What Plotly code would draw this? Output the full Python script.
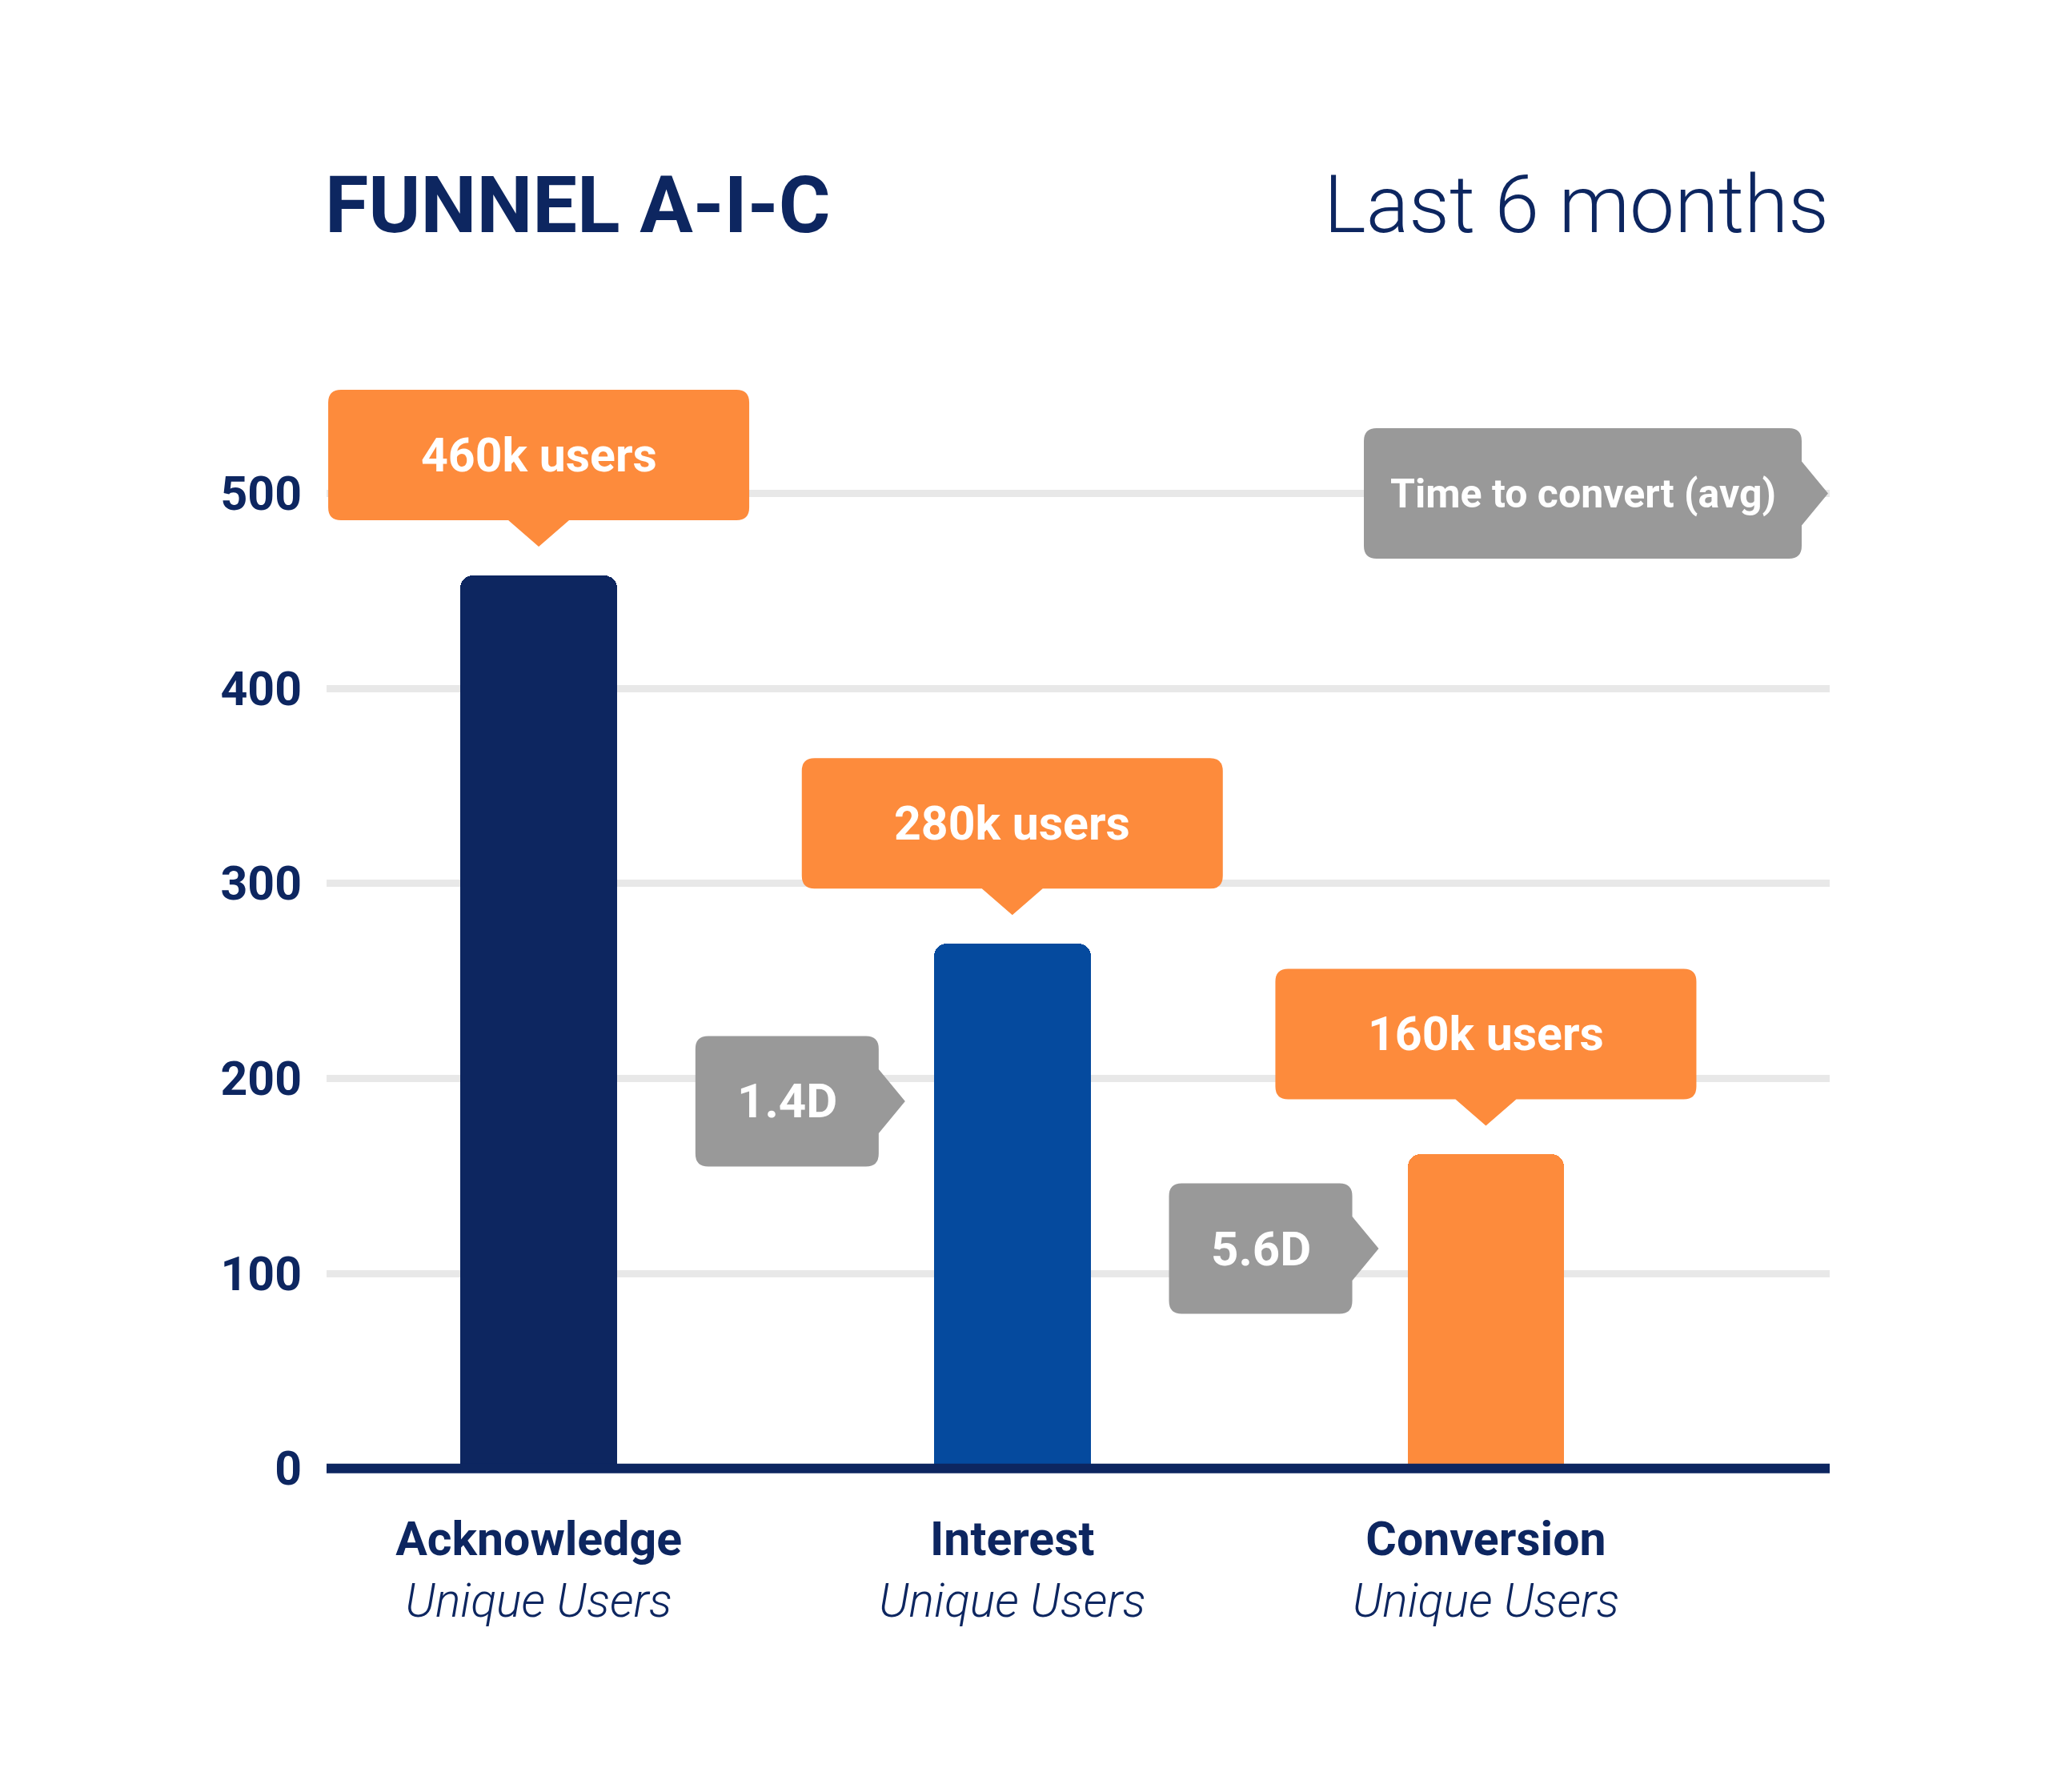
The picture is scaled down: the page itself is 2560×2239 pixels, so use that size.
import plotly.graph_objects as go

# ---------------- data ----------------
stages = ["Acknowledge", "Interest", "Conversion"]
stage_sub = ["Unique Users", "Unique Users", "Unique Users"]
users_k = [458, 269, 161]
user_labels = ["460k users", "280k users", "160k users"]
convert_labels = ["1.4D", "5.6D"]          # time from stage i to stage i+1
legend_label = "Time to convert (avg)"
y_ticks = [0, 100, 200, 300, 400, 500]
title_left = "FUNNEL A-I-C"
title_right = "Last 6 months"

# ---------------- style ----------------
OFF = 8  # browser body margin
W, H = 2560, 2239
ML, MR, MT, MB = 408 - OFF, 274 + OFF, 373 - OFF, 398 + OFF
X_RANGE = [-0.448, 2.726]
Y_RANGE = [-2.6, 600]
BAR_W = 0.331
NAVY = "#0d2660"
BLUE = "#054a9e"
ORANGE = "#fd8b3c"
GRAY = "#999999"
GRID = "#e8e8e8"
FONT = "Roboto"
bar_colors = [NAVY, BLUE, ORANGE]

plot_w = W - ML - MR
plot_h = H - MT - MB
x_pos = list(range(len(stages)))


def fmt(pts):
    out = []
    for cmd, *vals in pts:
        out.append(cmd + " " + " ".join(f"{v:.1f}" for v in vals))
    return " ".join(out) + " Z"


def down_callout(gap=36, depth=33, half_base=38, bw=526, bh=163, r=16):
    """pointer tip at (0, gap) above anchor, box above it (y up, pixels)"""
    b = gap + depth
    t = b + bh
    hw = bw / 2
    pts = [("M", 0, gap), ("L", half_base, b), ("L", hw - r, b), ("Q", hw, b, hw, b + r),
           ("L", hw, t - r), ("Q", hw, t, hw - r, t), ("L", -hw + r, t), ("Q", -hw, t, -hw, t - r),
           ("L", -hw, b + r), ("Q", -hw, b, -hw + r, b), ("L", -half_base, b)]
    return fmt(pts), (b + t) / 2


def right_callout(gap=36, depth=33, half_base=40, bw=229, bh=163, r=16):
    """pointer tip at (-gap, 0) left of anchor, box to the left of it"""
    rt = -gap - depth
    lf = rt - bw
    hh = bh / 2
    pts = [("M", -gap, 0), ("L", rt, -half_base), ("L", rt, -hh + r), ("Q", rt, -hh, rt - r, -hh),
           ("L", lf + r, -hh), ("Q", lf, -hh, lf, -hh + r), ("L", lf, hh - r), ("Q", lf, hh, lf + r, hh),
           ("L", rt - r, hh), ("Q", rt, hh, rt, hh - r), ("L", rt, half_base)]
    return fmt(pts), (rt + lf) / 2


fig = go.Figure()
fig.add_trace(go.Bar(
    x=x_pos, y=users_k, width=BAR_W,
    marker=dict(color=bar_colors, cornerradius=16, line=dict(width=0)),
    hoverinfo="skip", showlegend=False,
))

shapes = []
annotations = []

# orange user-count callouts above each bar
path_d, text_dy = down_callout()
for xi, v, lab in zip(x_pos, users_k, user_labels):
    shapes.append(dict(type="path", path=path_d, xref="x", yref="y",
                       xsizemode="pixel", ysizemode="pixel", xanchor=xi, yanchor=v,
                       fillcolor=ORANGE, line=dict(width=0), layer="above"))
    annotations.append(dict(text=f"<b>{lab}</b>", x=xi, y=v, xref="x", yref="y",
                            xanchor="center", yanchor="middle",
                            yshift=text_dy, showarrow=False,
                            font=dict(family=FONT, size=59, color="white")))

# gray time-to-convert callouts pointing at next bar
path_g, text_dx = right_callout()
for i, lab in enumerate(convert_labels):
    xi = x_pos[i + 1] - BAR_W / 2
    yv = users_k[i + 1] * 0.7
    shapes.append(dict(type="path", path=path_g, xref="x", yref="y",
                       xsizemode="pixel", ysizemode="pixel", xanchor=xi, yanchor=yv,
                       fillcolor=GRAY, line=dict(width=0), layer="above"))
    annotations.append(dict(text=f"<b>{lab}</b>", x=xi, y=yv, xref="x", yref="y",
                            xanchor="center", yanchor="middle",
                            xshift=text_dx, showarrow=False,
                            font=dict(family=FONT, size=60, color="white")))

# legend callout at top right
path_l, text_dx_l = right_callout(gap=2, depth=33, half_base=40, bw=547, bh=163)
shapes.append(dict(type="path", path=path_l, xref="paper", yref="y",
                   xsizemode="pixel", ysizemode="pixel", xanchor=1, yanchor=y_ticks[-1],
                   fillcolor=GRAY, line=dict(width=0), layer="above"))
annotations.append(dict(text=f"<b>{legend_label}</b>", x=1, y=y_ticks[-1], xref="paper", yref="y",
                        xanchor="center", yanchor="middle",
                        xshift=text_dx_l, showarrow=False,
                        font=dict(family=FONT, size=50, color="white")))

# baseline
shapes.append(dict(type="line", xref="paper", yref="y", x0=0, x1=1, y0=0, y1=0,
                   line=dict(color=NAVY, width=12), layer="above"))


# titles (positions given in page pixels)
def px_to_paper_x(px):
    return (px - OFF - ML) / plot_w


def px_to_paper_y(py):
    return (H - MB - (py - OFF)) / plot_h


annotations.append(dict(text=f"<b>{title_left}</b>", xref="paper", yref="paper",
                        x=px_to_paper_x(404), y=px_to_paper_y(256), xanchor="left", yanchor="middle",
                        showarrow=False, font=dict(family=FONT, size=99, color=NAVY)))
annotations.append(dict(text=title_right, xref="paper", yref="paper",
                        x=px_to_paper_x(2287), y=px_to_paper_y(256),
                        xanchor="right", yanchor="middle", showarrow=False,
                        font=dict(family=FONT, size=100, color=NAVY, weight=300)))

fig.update_layout(
    width=W, height=H,
    margin=dict(l=ML, r=MR, t=MT, b=MB, pad=0),
    paper_bgcolor="white", plot_bgcolor="white",
    shapes=shapes, annotations=annotations,
    bargap=0, hovermode=False,
    font=dict(family=FONT, color=NAVY),
)
fig.update_xaxes(
    range=X_RANGE, tickvals=x_pos,
    ticktext=[f"<b>{a}</b><br><i>{b}</i>" for a, b in zip(stages, stage_sub)],
    tickfont=dict(family=FONT, size=59, color=NAVY, weight=300),
    showgrid=False, zeroline=False, showline=False, ticks="", ticklabelstandoff=42,
    fixedrange=True,
)
fig.update_yaxes(
    range=Y_RANGE, tickvals=y_ticks, ticktext=[str(t) for t in y_ticks],
    tickfont=dict(family=FONT, size=59, color=NAVY, weight="bold"),
    showgrid=True, gridcolor=GRID, gridwidth=9, zeroline=False, showline=False,
    ticks="", ticklabelstandoff=30, fixedrange=True,
)

fig.write_html("out.html", config={"displayModeBar": False})
